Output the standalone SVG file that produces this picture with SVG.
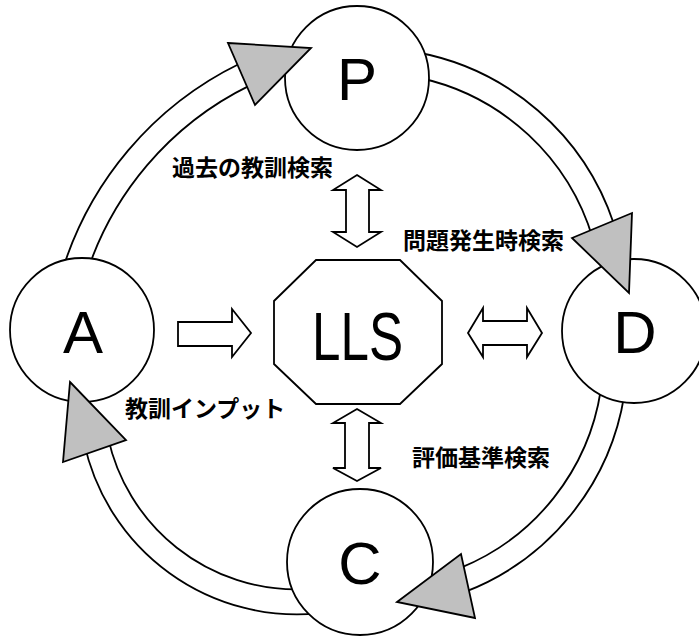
<svg xmlns="http://www.w3.org/2000/svg" width="699" height="637" viewBox="0 0 699 637">
<style>
.band{fill:none;stroke:#000;stroke-width:1.8}
.node{fill:#fff;stroke:#000;stroke-width:1.8}
.head{fill:#c0c0c0;stroke:#000;stroke-width:1.8;stroke-linejoin:miter}
.blk{fill:#fff;stroke:#000;stroke-width:1.8;stroke-linejoin:miter}
.big{font-family:"Liberation Sans",Arial,sans-serif;font-size:60px;text-anchor:middle;fill:#000}
.lbl{font-family:"Noto Sans CJK JP","Noto Sans CJK SC",sans-serif;font-size:23px;font-weight:bold;fill:#000}
</style>
<rect width="699" height="637" fill="#fff"/>
<g id="connectors">
  <g id="cycle-A-P">
    <path class="band" d="M 61 275 A 343 343 0 0 1 240 63.5"/>
    <path class="band" d="M 84.6 280 A 319 319 0 0 1 250 85.4"/>
  </g>
  <g id="cycle-P-D">
    <path class="band" d="M 415 52 A 257 257 0 0 1 614 224.3"/>
    <path class="band" d="M 420 78 A 232.5 232.5 0 0 1 593 239.2"/>
  </g>
  <g id="cycle-D-C">
    <path class="band" d="M 624.3 395 A 254 254 0 0 1 465 591.9"/>
    <path class="band" d="M 600.8 390 A 230 230 0 0 1 460 568.1"/>
  </g>
  <g id="cycle-C-A">
    <path class="band" d="M 320 613.2 A 218 218 0 0 1 84 442.4"/>
    <path class="band" d="M 300 589.4 A 193 193 0 0 1 108 437.4"/>
  </g>
  <polygon id="arrow-A-LLS" class="blk" points="178,322 232,322 232,309 251,333 232,357 232,346 178,346"/>
  <polygon id="arrow-LLS-D" class="blk" points="468,333 483,308 483,321 527,321 527,308 542,333 527,357 527,345 483,345 483,357"/>
  <polygon id="arrow-P-LLS" class="blk" points="357,175 381,190 369,190 369,232 381,232 357,247 333,232 346,232 346,190 333,190"/>
  <polygon id="arrow-LLS-C" class="blk" points="357,409 381,423 369,423 369,468 381,468 357,481 333,468 345,468 345,423 333,423"/>
</g>
<g id="node-P">
  <circle class="node" cx="357" cy="78" r="72"/>
  <text class="big" x="357" y="100">P</text>
</g>
<g id="node-D">
  <circle class="node" cx="634" cy="331" r="72"/>
  <text class="big" x="635" y="353">D</text>
</g>
<g id="node-C">
  <circle class="node" cx="360" cy="562" r="73"/>
  <text class="big" x="360" y="584">C</text>
</g>
<g id="node-A">
  <circle class="node" cx="82" cy="330" r="72"/>
  <text class="big" x="83" y="353">A</text>
</g>
<g id="arrowheads">
  <polygon class="head" points="228,43 311,48 255,105"/>
  <polygon class="head" points="572,238 632,213 629,293"/>
  <polygon class="head" points="397,602 461,554 475,618"/>
  <polygon class="head" points="70,382 126,440 63,462"/>
</g>
<g id="node-LLS">
  <polygon class="node" points="316,260 400,260 442,301 442,364 400,404 316,404 274,364 274,301"/>
  <text x="357.5" y="360" font-family="'Liberation Sans',Arial,sans-serif" font-size="68" text-anchor="middle" textLength="91" lengthAdjust="spacingAndGlyphs">LLS</text>
</g>
<g id="labels">
  <text class="lbl" x="172" y="176">過去の教訓検索</text>
  <text class="lbl" x="403" y="249">問題発生時検索</text>
  <text class="lbl" x="125" y="417">教訓インプット</text>
  <text class="lbl" x="412" y="466">評価基準検索</text>
</g>
</svg>
